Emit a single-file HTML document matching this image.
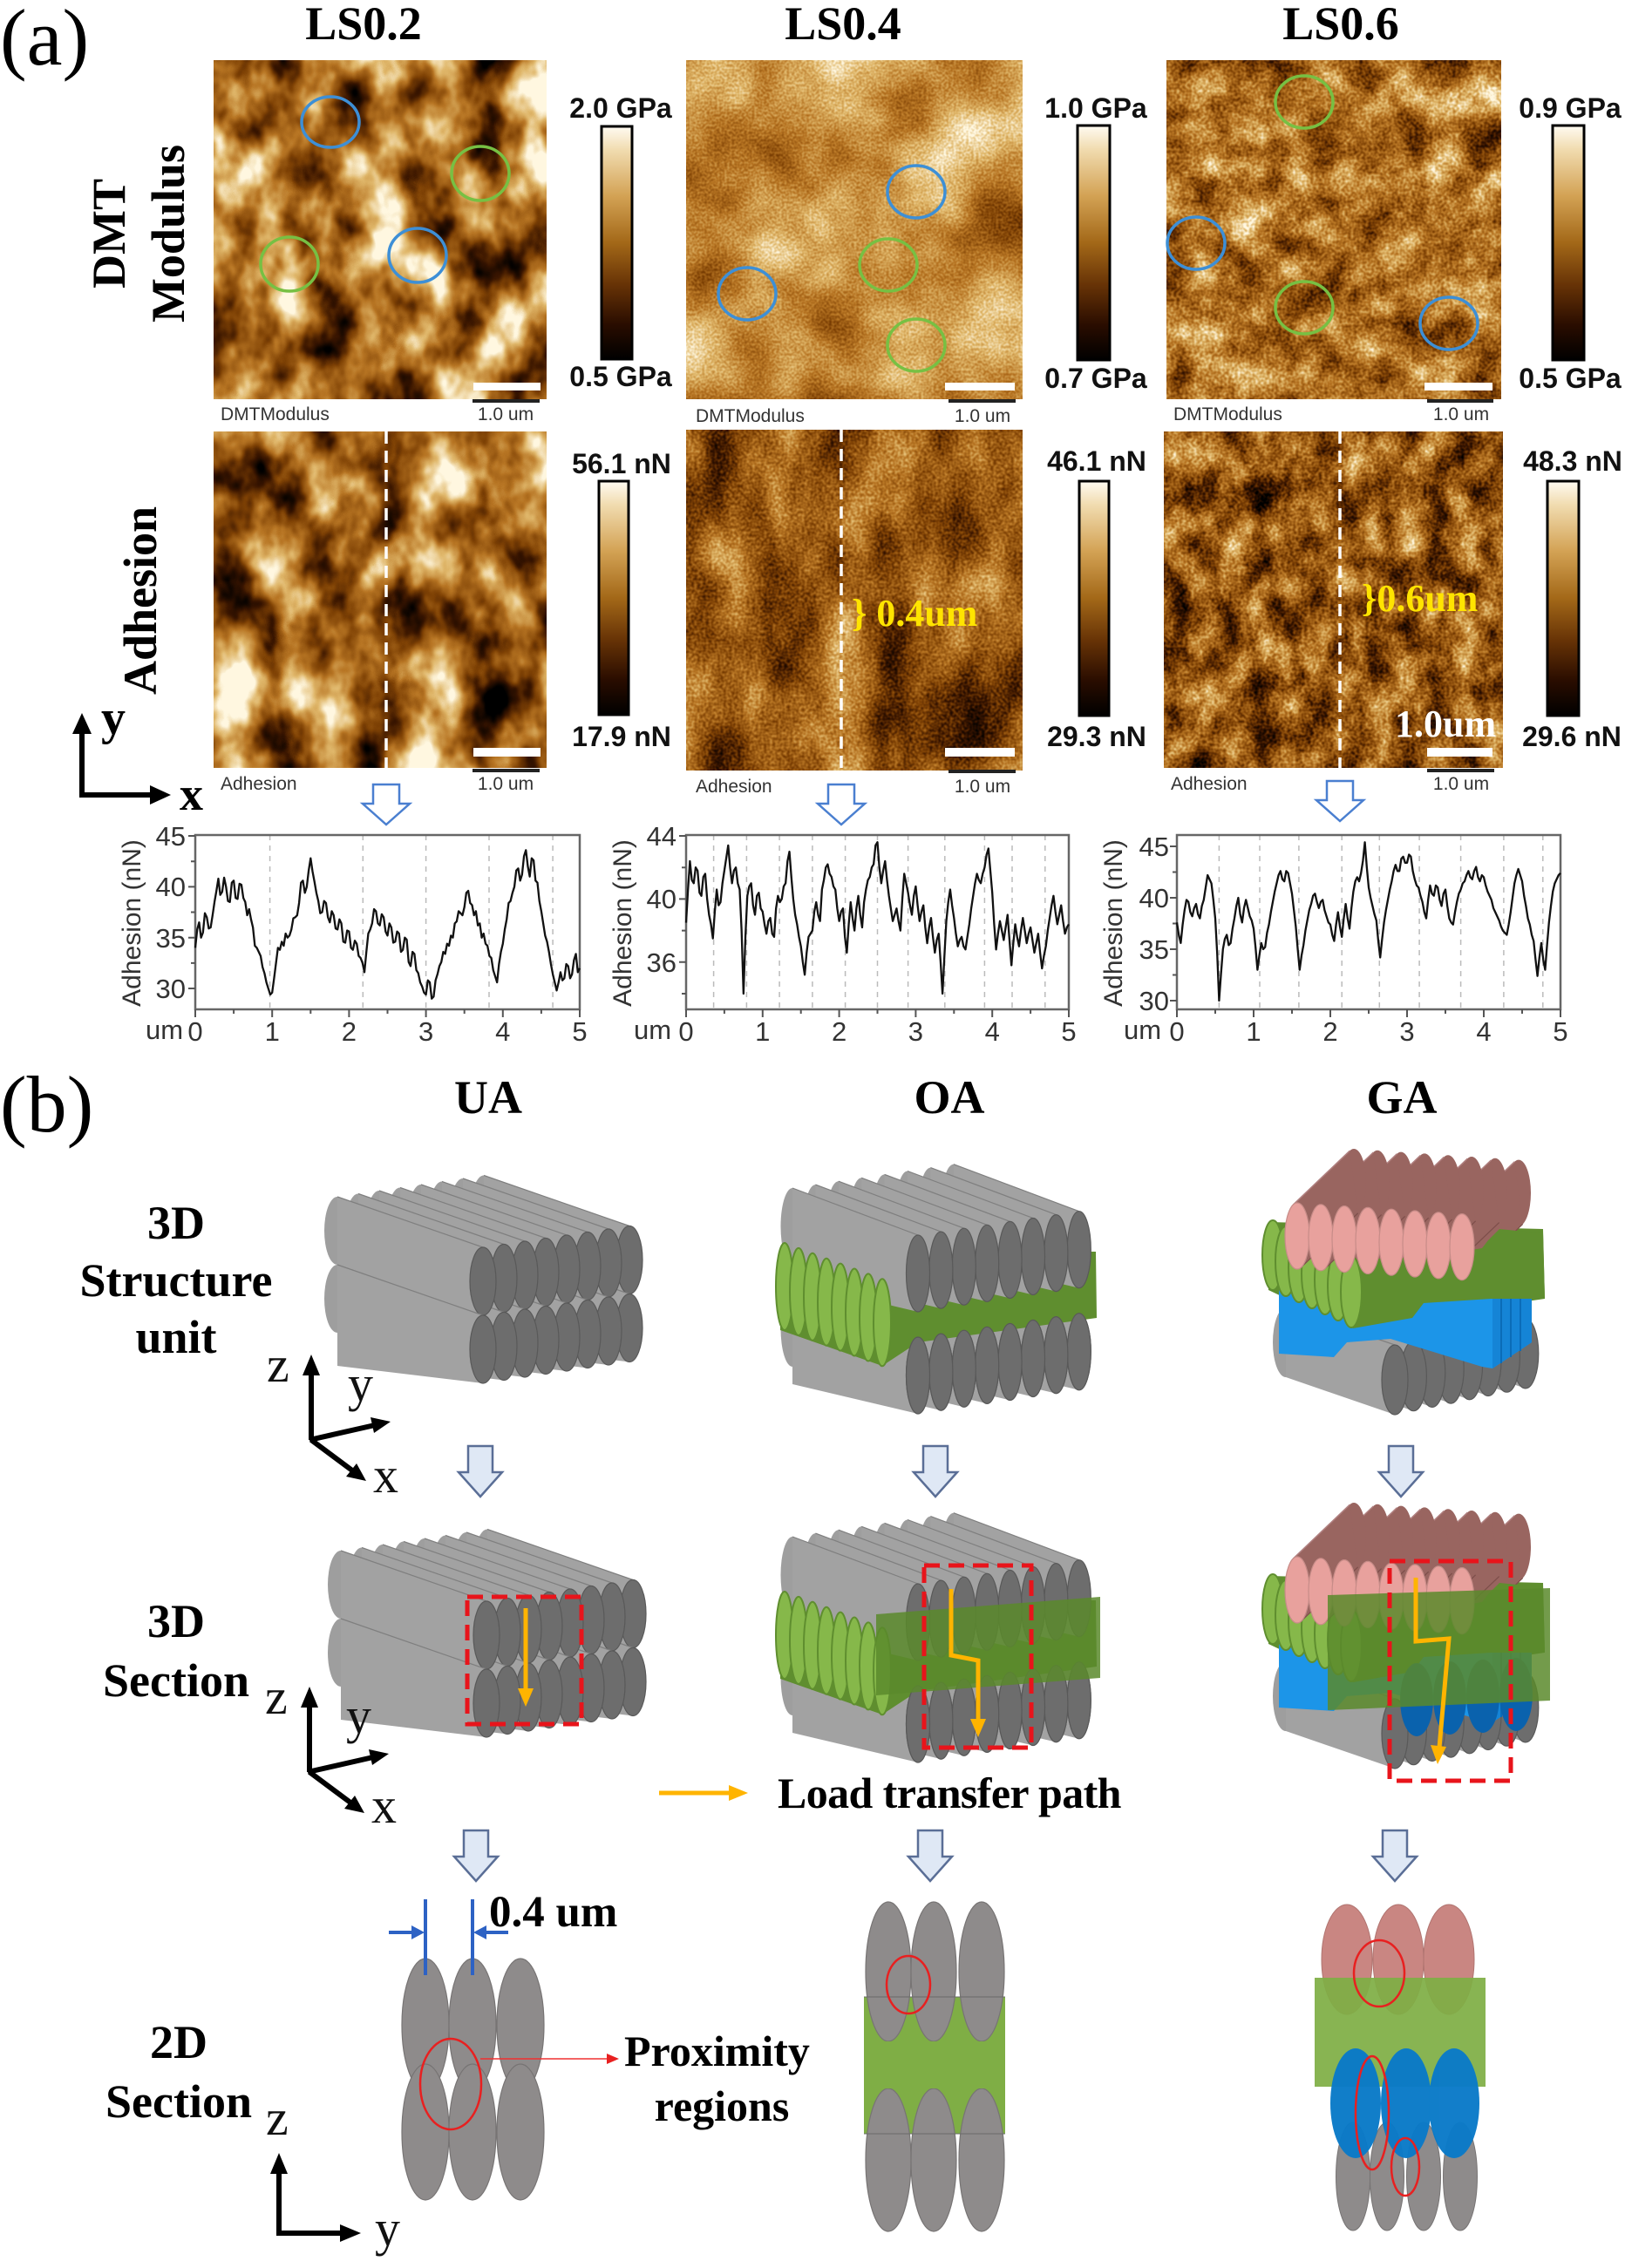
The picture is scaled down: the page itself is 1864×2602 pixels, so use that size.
<!DOCTYPE html>
<html><head><meta charset="utf-8"><style>
html,body{margin:0;padding:0;background:#fff;}
body{width:1864px;height:2602px;overflow:hidden;}
svg{display:block;}
.serif{font-family:"Liberation Serif","Times New Roman",serif;}
.sans{font-family:"Liberation Sans",Arial,sans-serif;}
</style></head><body>
<svg width="1864" height="2602" viewBox="0 0 1864 2602" xmlns="http://www.w3.org/2000/svg">
<defs>
<linearGradient id="cb" x1="0" y1="0" x2="0" y2="1">
<stop offset="0" stop-color="#fffbf2"/><stop offset="0.1" stop-color="#f1dcb0"/><stop offset="0.3" stop-color="#d3a254"/><stop offset="0.5" stop-color="#a36818"/><stop offset="0.68" stop-color="#673306"/><stop offset="0.85" stop-color="#2a0d00"/><stop offset="1" stop-color="#000"/>
</linearGradient>

<filter id="fA" x="0" y="0" width="1" height="1" color-interpolation-filters="sRGB">
<feTurbulence type="fractalNoise" baseFrequency="0.017 0.012" numOctaves="4" seed="7"/>
<feColorMatrix type="matrix" values="1.8 0 0 0 -0.33  1.8 0 0 0 -0.33  1.8 0 0 0 -0.33  0 0 0 0 1"/>
<feComponentTransfer>
<feFuncR type="table" tableValues="0 0.22 0.5 0.72 0.88 1"/>
<feFuncG type="table" tableValues="0 0.08 0.26 0.46 0.72 0.97"/>
<feFuncB type="table" tableValues="0 0 0.02 0.14 0.42 0.88"/>
</feComponentTransfer>
</filter>
<filter id="fA2" x="0" y="0" width="1" height="1" color-interpolation-filters="sRGB">
<feTurbulence type="fractalNoise" baseFrequency="0.017 0.012" numOctaves="4" seed="31"/>
<feColorMatrix type="matrix" values="1.8 0 0 0 -0.36  1.8 0 0 0 -0.36  1.8 0 0 0 -0.36  0 0 0 0 1"/>
<feComponentTransfer>
<feFuncR type="table" tableValues="0 0.22 0.5 0.72 0.88 1"/>
<feFuncG type="table" tableValues="0 0.08 0.26 0.46 0.72 0.97"/>
<feFuncB type="table" tableValues="0 0 0.02 0.14 0.42 0.88"/>
</feComponentTransfer>
</filter>
<filter id="fB" x="0" y="0" width="1" height="1" color-interpolation-filters="sRGB">
<feTurbulence type="fractalNoise" baseFrequency="0.009" numOctaves="3" seed="3" result="a0"/>
<feColorMatrix in="a0" type="matrix" values="1 0 0 0 0  1 0 0 0 0  1 0 0 0 0  0 0 0 0 1" result="a"/>
<feTurbulence type="fractalNoise" baseFrequency="0.35" numOctaves="1" seed="11" result="b0"/>
<feColorMatrix in="b0" type="matrix" values="1 0 0 0 0  1 0 0 0 0  1 0 0 0 0  0 0 0 0 1" result="b"/>
<feComposite in="a" in2="b" operator="arithmetic" k1="0" k2="0.75" k3="0.3" k4="-0.025"/>
<feColorMatrix type="matrix" values="1.2 0 0 0 0.08  1.2 0 0 0 0.08  1.2 0 0 0 0.08  0 0 0 0 1"/>
<feComponentTransfer>
<feFuncR type="table" tableValues="0 0.22 0.5 0.72 0.88 1"/>
<feFuncG type="table" tableValues="0 0.08 0.26 0.46 0.72 0.97"/>
<feFuncB type="table" tableValues="0 0 0.02 0.14 0.42 0.88"/>
</feComponentTransfer>
</filter>
<filter id="fC" x="0" y="0" width="1" height="1" color-interpolation-filters="sRGB">
<feTurbulence type="fractalNoise" baseFrequency="0.015 0.008" numOctaves="3" seed="5" result="a0"/>
<feColorMatrix in="a0" type="matrix" values="1 0 0 0 0  1 0 0 0 0  1 0 0 0 0  0 0 0 0 1" result="a"/>
<feTurbulence type="fractalNoise" baseFrequency="0.3" numOctaves="1" seed="13" result="b0"/>
<feColorMatrix in="b0" type="matrix" values="1 0 0 0 0  1 0 0 0 0  1 0 0 0 0  0 0 0 0 1" result="b"/>
<feComposite in="a" in2="b" operator="arithmetic" k1="0" k2="0.7" k3="0.35" k4="-0.025"/>
<feColorMatrix type="matrix" values="1.4 0 0 0 -0.22  1.4 0 0 0 -0.22  1.4 0 0 0 -0.22  0 0 0 0 1"/>
<feComponentTransfer>
<feFuncR type="table" tableValues="0 0.22 0.5 0.72 0.88 1"/>
<feFuncG type="table" tableValues="0 0.08 0.26 0.46 0.72 0.97"/>
<feFuncB type="table" tableValues="0 0 0.02 0.14 0.42 0.88"/>
</feComponentTransfer>
</filter>
<filter id="fD" x="0" y="0" width="1" height="1" color-interpolation-filters="sRGB">
<feTurbulence type="fractalNoise" baseFrequency="0.022" numOctaves="4" seed="21" result="a0"/>
<feColorMatrix in="a0" type="matrix" values="1 0 0 0 0  1 0 0 0 0  1 0 0 0 0  0 0 0 0 1" result="a"/>
<feTurbulence type="fractalNoise" baseFrequency="0.3" numOctaves="1" seed="17" result="b0"/>
<feColorMatrix in="b0" type="matrix" values="1 0 0 0 0  1 0 0 0 0  1 0 0 0 0  0 0 0 0 1" result="b"/>
<feComposite in="a" in2="b" operator="arithmetic" k1="0" k2="0.7" k3="0.35" k4="-0.025"/>
<feColorMatrix type="matrix" values="1.5 0 0 0 -0.18  1.5 0 0 0 -0.18  1.5 0 0 0 -0.18  0 0 0 0 1"/>
<feComponentTransfer>
<feFuncR type="table" tableValues="0 0.22 0.5 0.72 0.88 1"/>
<feFuncG type="table" tableValues="0 0.08 0.26 0.46 0.72 0.97"/>
<feFuncB type="table" tableValues="0 0 0.02 0.14 0.42 0.88"/>
</feComponentTransfer>
</filter>
<filter id="fE" x="0" y="0" width="1" height="1" color-interpolation-filters="sRGB">
<feTurbulence type="fractalNoise" baseFrequency="0.03 0.022" numOctaves="4" seed="9" result="a0"/>
<feColorMatrix in="a0" type="matrix" values="1 0 0 0 0  1 0 0 0 0  1 0 0 0 0  0 0 0 0 1" result="a"/>
<feTurbulence type="fractalNoise" baseFrequency="0.3" numOctaves="1" seed="19" result="b0"/>
<feColorMatrix in="b0" type="matrix" values="1 0 0 0 0  1 0 0 0 0  1 0 0 0 0  0 0 0 0 1" result="b"/>
<feComposite in="a" in2="b" operator="arithmetic" k1="0" k2="0.7" k3="0.35" k4="-0.025"/>
<feColorMatrix type="matrix" values="1.6 0 0 0 -0.32  1.6 0 0 0 -0.32  1.6 0 0 0 -0.32  0 0 0 0 1"/>
<feComponentTransfer>
<feFuncR type="table" tableValues="0 0.22 0.5 0.72 0.88 1"/>
<feFuncG type="table" tableValues="0 0.08 0.26 0.46 0.72 0.97"/>
<feFuncB type="table" tableValues="0 0 0.02 0.14 0.42 0.88"/>
</feComponentTransfer>
</filter>

<!-- cylinder symbols -->
<g id="cU">
<ellipse cx="-167" cy="-58" rx="15" ry="39" fill="#9e9e9e"/>
<polygon points="0,-39 -167,-97 -167,19 0,39" fill="#a2a2a2"/>
<polyline points="0,-39 -167,-97" fill="none" stroke="#7f7f7f" stroke-width="1.2"/>
<ellipse rx="15" ry="39" fill="#6d6d6d" stroke="#595959" stroke-width="1.2"/>
</g>
<g id="cO">
<ellipse cx="-144" cy="-54" rx="13.5" ry="44" fill="#9e9e9e"/>
<polygon points="0,-44 -144,-98 -144,10 0,44" fill="#a2a2a2"/>
<polyline points="0,-44 -144,-98" fill="none" stroke="#7f7f7f" stroke-width="1.2"/>
<ellipse rx="13.5" ry="44" fill="#6d6d6d" stroke="#595959" stroke-width="1.2"/>
</g>
<g id="cG">
<ellipse cx="-125" cy="-43" rx="15" ry="40" fill="#9e9e9e"/>
<polygon points="0,-40 -125,-83 -125,-3 0,40" fill="#a2a2a2"/>
<polyline points="0,-40 -125,-83" fill="none" stroke="#7f7f7f" stroke-width="1.2"/>
<ellipse rx="15" ry="40" fill="#6d6d6d" stroke="#595959" stroke-width="1.2"/>
</g>
<g id="pB">
<ellipse cx="65" cy="-62" rx="14" ry="38" fill="#996560"/>
<polygon points="4.65,35.8 -4.65,-35.8 60.35,-97.8 69.65,-26.2" fill="#996560"/>
<polyline points="-4.65,-35.8 60.35,-97.8" fill="none" stroke="#b08080" stroke-width="1.5"/>
<polyline points="4.65,35.8 69.65,-26.2" fill="none" stroke="#7d4e4a" stroke-width="1.2"/>
</g>
<g id="pF"><ellipse rx="14" ry="38" fill="#e8a19d" stroke="#c78c88" stroke-width="1.2"/></g>

<g id="UAb">
<use href="#cU" x="722" y="1445.5"/><use href="#cU" x="722" y="1523.5"/>
<use href="#cU" x="698" y="1449"/><use href="#cU" x="698" y="1527"/>
<use href="#cU" x="674" y="1452.5"/><use href="#cU" x="674" y="1530.5"/>
<use href="#cU" x="650" y="1456"/><use href="#cU" x="650" y="1534"/>
<use href="#cU" x="626" y="1459.5"/><use href="#cU" x="626" y="1537.5"/>
<use href="#cU" x="602" y="1463"/><use href="#cU" x="602" y="1541"/>
<use href="#cU" x="578" y="1466.5"/><use href="#cU" x="578" y="1544.5"/>
<use href="#cU" x="554" y="1470"/><use href="#cU" x="554" y="1548"/>
</g>

<g id="OAb">
<use href="#cO" x="1237.8" y="1550.7"/><use href="#cO" x="1211.4" y="1554.6"/><use href="#cO" x="1185" y="1558.5"/><use href="#cO" x="1158.6" y="1562.4"/><use href="#cO" x="1132.2" y="1566.3"/><use href="#cO" x="1105.8" y="1570.2"/><use href="#cO" x="1079.4" y="1574.1"/><use href="#cO" x="1053" y="1578"/>
<polygon points="895,1430 1257,1436 1258,1512 1053,1540 1012,1567 895,1526" fill="#5f8e2f"/>
<g fill="#6d6d6d" stroke="#595959" stroke-width="1.2">
<ellipse cx="1237.8" cy="1550.7" rx="13.5" ry="44"/><ellipse cx="1211.4" cy="1554.6" rx="13.5" ry="44"/><ellipse cx="1185" cy="1558.5" rx="13.5" ry="44"/><ellipse cx="1158.6" cy="1562.4" rx="13.5" ry="44"/><ellipse cx="1132.2" cy="1566.3" rx="13.5" ry="44"/><ellipse cx="1105.8" cy="1570.2" rx="13.5" ry="44"/><ellipse cx="1079.4" cy="1574.1" rx="13.5" ry="44"/><ellipse cx="1053" cy="1578" rx="13.5" ry="44"/>
</g>
<use href="#cO" x="1237.8" y="1433.7"/><use href="#cO" x="1211.4" y="1437.6"/><use href="#cO" x="1185" y="1441.5"/><use href="#cO" x="1158.6" y="1445.4"/><use href="#cO" x="1132.2" y="1449.3"/><use href="#cO" x="1105.8" y="1453.2"/><use href="#cO" x="1079.4" y="1457.1"/><use href="#cO" x="1053" y="1461"/>
<g fill="#86b84a" stroke="#5f8e2f" stroke-width="2">
<ellipse cx="900" cy="1476" rx="10" ry="50"/><ellipse cx="916" cy="1481.9" rx="10" ry="50"/><ellipse cx="932" cy="1487.8" rx="10" ry="50"/><ellipse cx="948" cy="1493.7" rx="10" ry="50"/><ellipse cx="964" cy="1499.6" rx="10" ry="50"/><ellipse cx="980" cy="1505.5" rx="10" ry="50"/><ellipse cx="996" cy="1511.4" rx="10" ry="50"/><ellipse cx="1012" cy="1517.3" rx="10" ry="50"/>
</g>
</g>

<g id="GAb">
<polygon points="1455,1402 1770,1410 1772,1490 1620,1512 1550,1525 1455,1480" fill="#5f8e2f"/>
<use href="#cG" x="1749.8" y="1552.9"/><use href="#cG" x="1728.4" y="1557.2"/><use href="#cG" x="1707" y="1561.5"/><use href="#cG" x="1685.6" y="1565.8"/><use href="#cG" x="1664.2" y="1570.1"/><use href="#cG" x="1642.8" y="1574.4"/><use href="#cG" x="1621.4" y="1578.7"/><use href="#cG" x="1600" y="1583"/>
<polygon points="1467,1472 1520,1470 1560,1478 1600,1492 1640,1490 1700,1476 1757,1478 1757,1540 1712,1570 1700,1568 1595,1536 1545,1540 1530,1557 1467,1553" fill="#1c95e8"/>
<polygon points="1712,1478 1757,1478 1757,1540 1712,1570" fill="#1584d6"/>
<g stroke="#0b6cb8" stroke-width="2"><line x1="1722" y1="1480" x2="1722" y2="1564"/><line x1="1733" y1="1480" x2="1733" y2="1557"/><line x1="1744" y1="1480" x2="1744" y2="1550"/></g>
<g fill="#86b84a" stroke="#5f8e2f" stroke-width="2">
<ellipse cx="1460" cy="1440" rx="12" ry="40"/><ellipse cx="1475" cy="1447" rx="12" ry="40"/><ellipse cx="1490" cy="1454" rx="12" ry="40"/><ellipse cx="1505" cy="1461" rx="12" ry="40"/><ellipse cx="1520" cy="1468" rx="12" ry="40"/><ellipse cx="1535" cy="1475" rx="12" ry="40"/>
</g>
<use href="#pB" x="1677" y="1430.6"/><use href="#pB" x="1650" y="1428.8"/><use href="#pB" x="1623" y="1427"/><use href="#pB" x="1596" y="1425.2"/><use href="#pB" x="1569" y="1423.4"/><use href="#pB" x="1542" y="1421.6"/><use href="#pB" x="1515" y="1419.8"/><use href="#pB" x="1488" y="1418"/>
<polygon points="1545,1445 1640,1442 1700,1432 1707,1423 1720,1410 1770,1415 1772,1490 1710,1490 1633,1495 1620,1512 1552,1524 1545,1500" fill="#5f8e2f"/>
<ellipse cx="1550" cy="1482" rx="12" ry="41" fill="#86b84a" stroke="#5f8e2f" stroke-width="2"/>
<use href="#pF" x="1488" y="1418"/><use href="#pF" x="1515" y="1419.8"/><use href="#pF" x="1542" y="1421.6"/><use href="#pF" x="1569" y="1423.4"/><use href="#pF" x="1596" y="1425.2"/><use href="#pF" x="1623" y="1427"/><use href="#pF" x="1650" y="1428.8"/><use href="#pF" x="1677" y="1430.6"/>
</g>
</defs>

<!-- ================= (a) ================= -->
<text class="serif" x="0" y="74" font-size="92">(a)</text>
<g class="serif" font-weight="bold" font-size="54" text-anchor="middle">
<text x="417" y="45">LS0.2</text>
<text x="967" y="45">LS0.4</text>
<text x="1538" y="45">LS0.6</text>
<text transform="translate(143,268) rotate(-90)">DMT</text>
<text transform="translate(211,268) rotate(-90)">Modulus</text>
<text transform="translate(179,689) rotate(-90)">Adhesion</text>
</g>

<!-- AFM images -->
<rect x="245" y="69" width="382" height="389" fill="#a86a20"/>
<rect x="245" y="69" width="382" height="389" filter="url(#fA)"/>
<rect x="787" y="69" width="386" height="389" fill="#c08a45"/>
<rect x="787" y="69" width="386" height="389" filter="url(#fB)"/>
<rect x="1338" y="69" width="384" height="389" fill="#a86a20"/>
<rect x="1338" y="69" width="384" height="389" filter="url(#fD)"/>
<rect x="245" y="495" width="382" height="386" fill="#a86a20"/>
<rect x="245" y="495" width="382" height="386" filter="url(#fA2)"/>
<rect x="787" y="493" width="386" height="391" fill="#8a5010"/>
<rect x="787" y="493" width="386" height="391" filter="url(#fC)"/>
<rect x="1335" y="495" width="389" height="386" fill="#8a5010"/>
<rect x="1335" y="495" width="389" height="386" filter="url(#fE)"/>

<!-- circles -->
<g fill="none" stroke-width="3.5">
<ellipse cx="379" cy="140" rx="33" ry="29" stroke="#3d8fd6"/>
<ellipse cx="551" cy="199" rx="33" ry="31" stroke="#77c043"/>
<ellipse cx="332" cy="303" rx="33" ry="31" stroke="#77c043"/>
<ellipse cx="479" cy="293" rx="33" ry="31" stroke="#3d8fd6"/>
<ellipse cx="1051" cy="220" rx="33" ry="30" stroke="#3d8fd6"/>
<ellipse cx="1019" cy="304" rx="33" ry="30" stroke="#77c043"/>
<ellipse cx="1051" cy="396" rx="33" ry="30" stroke="#77c043"/>
<ellipse cx="857" cy="337" rx="33" ry="30" stroke="#3d8fd6"/>
<ellipse cx="1496" cy="117" rx="33" ry="30" stroke="#77c043"/>
<ellipse cx="1372" cy="279" rx="33" ry="30" stroke="#3d8fd6"/>
<ellipse cx="1496" cy="353" rx="33" ry="30" stroke="#77c043"/>
<ellipse cx="1662" cy="371" rx="33" ry="30" stroke="#3d8fd6"/>
</g>

<!-- dashed lines -->
<g stroke="#fff" stroke-width="3.5" stroke-dasharray="14 8">
<line x1="443" y1="495" x2="443" y2="881"/>
<line x1="965" y1="493" x2="965" y2="884"/>
<line x1="1537" y1="495" x2="1537" y2="881"/>
</g>

<!-- white bars -->
<g fill="#fff">
<rect x="543" y="439" width="77" height="9"/><rect x="1084" y="439" width="80" height="9"/><rect x="1634" y="439" width="78" height="9"/>
<rect x="543" y="858" width="77" height="10"/><rect x="1084" y="858" width="80" height="10"/><rect x="1637" y="858" width="75" height="10"/>
</g>
<!-- black scale lines -->
<g stroke="#222" stroke-width="4">
<line x1="542" y1="460" x2="619" y2="460"/><line x1="1088" y1="460" x2="1165" y2="460"/><line x1="1637" y1="460" x2="1713" y2="460"/>
<line x1="542" y1="884" x2="619" y2="884"/><line x1="1088" y1="885" x2="1165" y2="885"/><line x1="1637" y1="884" x2="1714" y2="884"/>
</g>
<g class="sans" font-size="21" fill="#333">
<text x="253" y="482">DMTModulus</text><text x="580" y="482" text-anchor="middle">1.0 um</text>
<text x="798" y="484">DMTModulus</text><text x="1127" y="484" text-anchor="middle">1.0 um</text>
<text x="1346" y="482">DMTModulus</text><text x="1676" y="482" text-anchor="middle">1.0 um</text>
<text x="253" y="906">Adhesion</text><text x="580" y="906" text-anchor="middle">1.0 um</text>
<text x="798" y="909">Adhesion</text><text x="1127" y="909" text-anchor="middle">1.0 um</text>
<text x="1343" y="906">Adhesion</text><text x="1676" y="906" text-anchor="middle">1.0 um</text>
</g>

<!-- colorbars -->
<g fill="url(#cb)" stroke="#000" stroke-width="3">
<rect x="690" y="145" width="35" height="267"/>
<rect x="1236" y="144" width="37" height="269"/>
<rect x="1781" y="144" width="36" height="269"/>
<rect x="687" y="552" width="34" height="268"/>
<rect x="1238" y="552" width="34" height="269"/>
<rect x="1775" y="552" width="36" height="269"/>
</g>
<g class="sans" font-weight="bold" font-size="32" fill="#111" text-anchor="middle">
<text x="712" y="135">2.0 GPa</text><text x="712" y="443">0.5 GPa</text>
<text x="1257" y="135">1.0 GPa</text><text x="1257" y="445">0.7 GPa</text>
<text x="1801" y="135">0.9 GPa</text><text x="1801" y="445">0.5 GPa</text>
<text x="713" y="543">56.1 nN</text><text x="713" y="856">17.9 nN</text>
<text x="1258" y="540">46.1 nN</text><text x="1258" y="856">29.3 nN</text>
<text x="1804" y="540">48.3 nN</text><text x="1803" y="856">29.6 nN</text>
</g>

<!-- yellow annotations -->
<g class="serif" font-weight="bold" font-size="44">
<text x="977" y="718" fill="#ffe400">} 0.4um</text>
<text x="1562" y="701" fill="#ffe400">}0.6um</text>
<text x="1600" y="845" fill="#fff">1.0um</text>
</g>

<!-- xy axes (a) -->
<line x1="94" y1="915" x2="94" y2="838" stroke="#000" stroke-width="6"/>
<polygon points="94,818 83,842 105,842" fill="#000"/>
<line x1="91" y1="912" x2="174" y2="912" stroke="#000" stroke-width="6"/>
<polygon points="196,912 172,901 172,923" fill="#000"/>
<text class="serif" font-weight="bold" font-size="56" x="116" y="842">y</text>
<text class="serif" font-weight="bold" font-size="54" x="206" y="929">x</text>

<!-- hollow arrows (a) -->
<g fill="#fff" stroke="#4a7fd0" stroke-width="2.5">
<polygon points="428,900 458,900 458,922 470,922 443,946 416,922 428,922"/>
<polygon points="950,900 980,900 980,922 992,922 965,946 938,922 950,922"/>
<polygon points="1522,896 1552,896 1552,918 1564,918 1537,942 1510,918 1522,918"/>
</g>

<!-- plots -->
<g stroke="#bbb" stroke-width="1.5" stroke-dasharray="6 6">
<line x1="309.6" y1="958" x2="309.6" y2="1158"/><line x1="416.3" y1="958" x2="416.3" y2="1158"/><line x1="488.6" y1="958" x2="488.6" y2="1158"/><line x1="561" y1="958" x2="561" y2="1158"/><line x1="634.1" y1="958" x2="634.1" y2="1158"/>
<line x1="818.6" y1="958" x2="818.6" y2="1158"/><line x1="856.4" y1="958" x2="856.4" y2="1158"/><line x1="894.1" y1="958" x2="894.1" y2="1158"/><line x1="931.9" y1="958" x2="931.9" y2="1158"/><line x1="969.6" y1="958" x2="969.6" y2="1158"/><line x1="1006.5" y1="958" x2="1006.5" y2="1158"/><line x1="1041.6" y1="958" x2="1041.6" y2="1158"/><line x1="1083.8" y1="958" x2="1083.8" y2="1158"/><line x1="1129.4" y1="958" x2="1129.4" y2="1158"/><line x1="1161" y1="958" x2="1161" y2="1158"/><line x1="1198.8" y1="958" x2="1198.8" y2="1158"/>
<line x1="1398.4" y1="958" x2="1398.4" y2="1158"/><line x1="1445" y1="958" x2="1445" y2="1158"/><line x1="1489.9" y1="958" x2="1489.9" y2="1158"/><line x1="1539.2" y1="958" x2="1539.2" y2="1158"/><line x1="1582.3" y1="958" x2="1582.3" y2="1158"/><line x1="1628.1" y1="958" x2="1628.1" y2="1158"/><line x1="1675.6" y1="958" x2="1675.6" y2="1158"/><line x1="1724.9" y1="958" x2="1724.9" y2="1158"/><line x1="1769.8" y1="958" x2="1769.8" y2="1158"/>
</g>
<g fill="none" stroke="#666" stroke-width="2.5">
<rect x="224" y="958" width="441" height="200"/>
<rect x="787" y="958" width="439" height="200"/>
<rect x="1350" y="958" width="440" height="200"/>
</g>
<g stroke="#555" stroke-width="2">
<path d="M224,1158v9M312.2,1158v9M400.4,1158v9M488.6,1158v9M576.8,1158v9M665,1158v9M268.1,1158v5M356.3,1158v5M444.5,1158v5M532.7,1158v5M620.9,1158v5"/>
<path d="M224,959h-8M224,1017.4h-8M224,1075.7h-8M224,1134h-8M224,988.2h-5M224,1046.5h-5M224,1104.9h-5"/>
<path d="M787,1158v9M874.8,1158v9M962.6,1158v9M1050.4,1158v9M1138.2,1158v9M1226,1158v9M830.9,1158v5M918.7,1158v5M1006.5,1158v5M1094.3,1158v5M1182.1,1158v5"/>
<path d="M787,959h-8M787,1031.4h-8M787,1103.8h-8M787,995.2h-5M787,1067.6h-5M787,1140h-5"/>
<path d="M1350,1158v9M1438,1158v9M1526,1158v9M1614,1158v9M1702,1158v9M1790,1158v9M1394,1158v5M1482,1158v5M1570,1158v5M1658,1158v5M1746,1158v5"/>
<path d="M1350,971h-8M1350,1030h-8M1350,1089h-8M1350,1148h-8M1350,1000.5h-5M1350,1059.5h-5M1350,1118.5h-5"/>
</g>

<polyline fill="none" stroke="#111" stroke-width="2.3" vector-effect="non-scaling-stroke" stroke-linejoin="round" transform="translate(224,959) scale(88.2,-11.67) translate(0,-45)" points="0,34 0.025,35.8 0.05,36.5 0.075,35 0.1,35.5 0.125,37.4 0.15,37 0.175,35.9 0.2,36 0.225,37.2 0.25,38.5 0.275,39.6 0.3,40.8 0.325,39.2 0.35,39.5 0.375,40.9 0.4,40 0.425,38.6 0.45,38.5 0.475,40.4 0.5,40.6 0.525,38.9 0.55,38.8 0.575,40.3 0.6,40.2 0.625,38.9 0.65,38.5 0.675,37.2 0.7,37.8 0.725,36.8 0.75,36 0.775,34.2 0.8,34 0.825,33.6 0.85,33.2 0.875,32.1 0.9,31.5 0.925,30.6 0.95,30 0.975,29.4 1.0,29.6 1.025,31 1.05,32.5 1.075,34 1.1,33.8 1.125,34.6 1.15,34.2 1.175,35.4 1.2,35 1.225,35.2 1.25,35.8 1.275,36.9 1.3,37 1.325,37.2 1.35,38.4 1.375,40.4 1.4,40.6 1.425,39.4 1.45,40 1.475,41.6 1.5,42.8 1.525,41.5 1.55,40.5 1.575,39.4 1.6,38.6 1.625,37.4 1.65,37.5 1.675,38.6 1.7,38.4 1.725,37 1.75,36.5 1.775,37.6 1.8,37.2 1.825,35.9 1.85,35.8 1.875,36.8 1.9,36.4 1.925,34.6 1.95,34.5 1.975,35.7 2.0,35.6 2.025,34 2.05,33.8 2.075,34.7 2.1,34.4 2.125,33.2 2.15,33 2.175,32.5 2.2,31.6 2.225,33.6 2.25,35.4 2.275,35.8 2.3,36.4 2.325,37.8 2.35,37.6 2.375,36.4 2.4,36.2 2.425,37.3 2.45,37 2.475,35.6 2.5,35.2 2.525,36.4 2.55,36 2.575,34.5 2.6,34.6 2.625,35.6 2.65,35.4 2.675,33.6 2.7,33.8 2.725,35 2.75,34.8 2.775,32.6 2.8,32.2 2.825,33.6 2.85,33.4 2.875,31.8 2.9,31.5 2.925,30.6 2.95,30.2 2.975,29.6 3.0,29.4 3.025,30.8 3.05,30.6 3.075,29 3.1,29.2 3.125,30.8 3.15,31.4 3.175,32.2 3.2,32.6 3.225,33.6 3.25,33.4 3.275,34.4 3.3,34.2 3.325,35.2 3.35,35 3.375,36.4 3.4,36.6 3.425,37.6 3.45,37.4 3.475,37.2 3.5,38 3.525,39.4 3.55,39.6 3.575,38.4 3.6,38.2 3.625,37.2 3.65,37.6 3.675,36.2 3.7,36.4 3.725,35 3.75,35.4 3.775,34.4 3.8,34.2 3.825,33.2 3.85,33 3.875,31.8 3.9,31.2 3.925,30.6 3.95,32.4 3.975,33.6 4.0,34.4 4.025,35.8 4.05,36.8 4.075,38.4 4.1,38.6 4.125,39.4 4.15,40 4.175,41.6 4.2,41.8 4.225,40.6 4.25,41.2 4.275,43 4.3,43.6 4.325,42 4.35,41 4.375,42.8 4.4,42.6 4.425,40.6 4.45,40.4 4.475,38.6 4.5,37.6 4.525,36.4 4.55,35.2 4.575,34.6 4.6,33.6 4.625,32.4 4.65,31.4 4.675,30.6 4.7,29.8 4.725,30.6 4.75,31.6 4.775,30.8 4.8,31 4.825,32.4 4.85,32.2 4.875,31 4.9,31.4 4.925,32.8 4.95,33.4 4.975,31.6 5.0,32"/>

<polyline fill="none" stroke="#111" stroke-width="2.3" vector-effect="non-scaling-stroke" stroke-linejoin="round" transform="translate(787,959) scale(87.8,-18.1) translate(0,-44)" points="0,38.5 0.025,40.6 0.05,42.4 0.075,41.2 0.1,41 0.125,42 0.15,41.8 0.175,40.4 0.2,40.2 0.225,41.4 0.25,41.6 0.275,40 0.3,39 0.325,38.4 0.35,37.5 0.375,39.2 0.4,40.6 0.425,39.6 0.45,39.8 0.475,41 0.5,41.8 0.525,42.6 0.55,43.4 0.575,42 0.6,41 0.625,41.8 0.65,42 0.675,41 0.7,40.6 0.725,38 0.75,34 0.775,37.6 0.8,40.2 0.825,40.8 0.85,41 0.875,39.6 0.9,39 0.925,40.2 0.95,40.4 0.975,39.4 1.0,39.2 1.025,38.4 1.05,37.8 1.075,38.6 1.1,38.8 1.125,37.8 1.15,37.6 1.175,39.4 1.2,40.2 1.225,39.8 1.25,40 1.275,40.8 1.3,41 1.325,42.4 1.35,43 1.375,41.4 1.4,40 1.425,39 1.45,38.4 1.475,37.6 1.5,37 1.525,36 1.55,35.2 1.575,36.6 1.6,37.6 1.625,37.8 1.65,38 1.675,39.2 1.7,39.8 1.725,39 1.75,38.6 1.775,40.6 1.8,41.2 1.825,42 1.85,42.2 1.875,41.6 1.9,41.4 1.925,40.8 1.95,40.6 1.975,39.4 2.0,38.6 2.025,39.2 2.05,39.4 2.075,37.6 2.1,36.6 2.125,38.4 2.15,39.8 2.175,38.8 2.2,38 2.225,39.4 2.25,40.2 2.275,39 2.3,38.2 2.325,39.8 2.35,40.6 2.375,41.2 2.4,41.4 2.425,42 2.45,42.2 2.475,43.4 2.5,43.6 2.525,42 2.55,41 2.575,41.8 2.6,42.4 2.625,41.2 2.65,40.2 2.675,39.4 2.7,38.6 2.725,39 2.75,39.4 2.775,38.6 2.8,38 2.825,40 2.85,41.6 2.875,41 2.9,40.4 2.925,39.6 2.95,39 2.975,40.2 3.0,40.8 3.025,39.6 3.05,38.6 3.075,39.2 3.1,39.6 3.125,38.2 3.15,37.2 3.175,38.2 3.2,38.8 3.225,37.6 3.25,36.6 3.275,37.4 3.3,37.8 3.325,36 3.35,34 3.375,36.4 3.4,38.6 3.425,39.8 3.45,40.6 3.475,39.6 3.5,38.8 3.525,37.8 3.55,37 3.575,37.4 3.6,37.6 3.625,37 3.65,36.8 3.675,37.6 3.7,38.4 3.725,39.4 3.75,40.2 3.775,41 3.8,41.6 3.825,41.2 3.85,41 3.875,41.6 3.9,42 3.925,42.8 3.95,43.2 3.975,41.8 4.0,40.4 4.025,38.4 4.05,36.8 4.075,37.8 4.1,38.6 4.125,38 4.15,37.4 4.175,38.2 4.2,39 4.225,37.4 4.25,35.8 4.275,37.2 4.3,38.4 4.325,37.6 4.35,37 4.375,38 4.4,38.8 4.425,38 4.45,37.2 4.475,37.8 4.5,38.2 4.525,37.4 4.55,36.6 4.575,37.2 4.6,37.8 4.625,36.6 4.65,35.6 4.675,36.4 4.7,37 4.725,38 4.75,38.8 4.775,39.6 4.8,40.2 4.825,39.2 4.85,38.4 4.875,39 4.9,39.6 4.925,38.6 4.95,37.8 4.975,38.2 5.0,38.4"/>

<polyline fill="none" stroke="#111" stroke-width="2.3" vector-effect="non-scaling-stroke" stroke-linejoin="round" transform="translate(1350,971) scale(88,-11.8) translate(0,-45)" points="0,37.6 0.025,36.4 0.05,35.6 0.075,37.4 0.1,38.8 0.125,39.8 0.15,39.6 0.175,38.6 0.2,38.2 0.225,39 0.25,39.4 0.275,38.4 0.3,38 0.325,39.2 0.35,39.8 0.375,41 0.4,42.2 0.425,41.8 0.45,41.4 0.475,39.8 0.5,38 0.525,34.6 0.55,30 0.575,32.6 0.6,35 0.625,36 0.65,36.4 0.675,35.4 0.7,35.6 0.725,37 0.75,38 0.775,39.2 0.8,40 0.825,38.4 0.85,37.6 0.875,39 0.9,39.8 0.925,39 0.95,38.2 0.975,37.8 1.0,37 1.025,35.2 1.05,33 1.075,34.4 1.1,35.6 1.125,35 1.15,35.2 1.175,36.6 1.2,37.4 1.225,38.6 1.25,39.6 1.275,40.6 1.3,41.4 1.325,42.2 1.35,42.6 1.375,41.8 1.4,41.6 1.425,42.6 1.45,42.4 1.475,41.4 1.5,40.4 1.525,38.8 1.55,37.2 1.575,35 1.6,33 1.625,34.4 1.65,35.4 1.675,36.8 1.7,37.8 1.725,38.8 1.75,39.4 1.775,40.2 1.8,40.4 1.825,39.6 1.85,39 1.875,39.6 1.9,39.8 1.925,38.8 1.95,38.2 1.975,37.6 2.0,37.4 2.025,36.4 2.05,35.8 2.075,37.4 2.1,38.6 2.125,37.2 2.15,36.2 2.175,38 2.2,39.4 2.225,38 2.25,37 2.275,39 2.3,40.6 2.325,41.6 2.35,42 2.375,41.6 2.4,42.4 2.425,43.6 2.45,45.4 2.475,43 2.5,41 2.525,40 2.55,39.2 2.575,38.4 2.6,37.8 2.625,35.8 2.65,34.2 2.675,36 2.7,37.6 2.725,38.8 2.75,39.8 2.775,40.8 2.8,41.6 2.825,42.6 2.85,43.2 2.875,42.6 2.9,42.6 2.925,43.8 2.95,44 2.975,43.4 3.0,43.4 3.025,44.2 3.05,44 3.075,42.6 3.1,41.8 3.125,41.2 3.15,41 3.175,40.2 3.2,39.6 3.225,38.6 3.25,38 3.275,39.8 3.3,41.2 3.325,40.4 3.35,40.2 3.375,41.2 3.4,41 3.425,39.8 3.45,39.2 3.475,40.4 3.5,40.8 3.525,39.2 3.55,38 3.575,37.6 3.6,37.4 3.625,38.6 3.65,39.6 3.675,40.4 3.7,40.8 3.725,41.4 3.75,41.6 3.775,42.2 3.8,42.6 3.825,42 3.85,41.8 3.875,42.6 3.9,43 3.925,42 3.95,41.6 3.975,42.2 4.0,42 4.025,41.2 4.05,40.6 4.075,40.2 4.1,39.8 4.125,39 4.15,38.6 4.175,38.2 4.2,37.8 4.225,37.2 4.25,36.8 4.275,36.6 4.3,36.4 4.325,37.4 4.35,38.6 4.375,40 4.4,41.4 4.425,42.2 4.45,42.8 4.475,42.2 4.5,41.6 4.525,40.2 4.55,39.2 4.575,38 4.6,37.4 4.625,36.4 4.65,35.8 4.675,34 4.7,32.4 4.725,34.2 4.75,35.6 4.775,34 4.8,33 4.825,35.4 4.85,37.6 4.875,39.2 4.9,40.6 4.925,41.4 4.95,41.8 4.975,42.2 5.0,42.4"/>

<g class="sans" font-size="31" fill="#333">
<g text-anchor="end">
<text x="213" y="970">45</text><text x="213" y="1028">40</text><text x="213" y="1087">35</text><text x="213" y="1145">30</text>
<text x="776" y="970">44</text><text x="776" y="1042">40</text><text x="776" y="1115">36</text>
<text x="1341" y="982">45</text><text x="1341" y="1041">40</text><text x="1341" y="1100">35</text><text x="1341" y="1159">30</text>
</g>
<g text-anchor="middle">
<text x="224" y="1194">0</text><text x="312.2" y="1194">1</text><text x="400.4" y="1194">2</text><text x="488.6" y="1194">3</text><text x="576.8" y="1194">4</text><text x="665" y="1194">5</text>
<text x="787" y="1194">0</text><text x="874.8" y="1194">1</text><text x="962.6" y="1194">2</text><text x="1050.4" y="1194">3</text><text x="1138.2" y="1194">4</text><text x="1226" y="1194">5</text>
<text x="1350" y="1194">0</text><text x="1438" y="1194">1</text><text x="1526" y="1194">2</text><text x="1614" y="1194">3</text><text x="1702" y="1194">4</text><text x="1790" y="1194">5</text>
<text transform="translate(161,1059) rotate(-90)" font-size="30">Adhesion (nN)</text>
<text transform="translate(724,1059) rotate(-90)" font-size="30">Adhesion (nN)</text>
<text transform="translate(1287,1059) rotate(-90)" font-size="30">Adhesion (nN)</text>
</g>
<text x="167" y="1192">um</text><text x="727" y="1192">um</text><text x="1289" y="1192">um</text>
</g>

<!-- ================= (b) ================= -->
<text class="serif" x="0" y="1298" font-size="92">(b)</text>
<g class="serif" font-weight="bold" font-size="54" text-anchor="middle">
<text x="560" y="1277">UA</text><text x="1089" y="1277">OA</text><text x="1608" y="1277">GA</text>
<text x="202" y="1421">3D</text><text x="202" y="1487">Structure</text><text x="202" y="1552">unit</text>
<text x="202" y="1878">3D</text><text x="202" y="1946">Section</text>
<text x="205" y="2361">2D</text><text x="205" y="2429">Section</text>
</g>

<!-- 3D blocks -->
<use href="#UAb"/>
<use href="#OAb"/>
<use href="#GAb"/>
<use href="#UAb" x="4" y="406"/>
<use href="#OAb" y="400"/>
<polygon points="1005,1852 1262,1832 1262,1925 1005,1945" fill="#5b8a2c" opacity="0.85"/>
<use href="#GAb" y="406"/>
<g fill="#0a62ad"><ellipse cx="1625" cy="1950" rx="19" ry="42"/><ellipse cx="1663" cy="1948" rx="19" ry="42"/><ellipse cx="1701" cy="1946" rx="19" ry="42"/><ellipse cx="1739" cy="1944" rx="19" ry="42"/></g>
<polygon points="1523,1830 1778,1822 1778,1951 1523,1962" fill="#5b8a2c" opacity="0.85"/>

<!-- red dashed boxes -->
<g fill="none" stroke="#e8141b" stroke-width="5" stroke-dasharray="18 10">
<rect x="536" y="1832" width="131" height="146"/>
<rect x="1060" y="1796" width="123" height="209"/>
<rect x="1594" y="1791" width="139" height="252"/>
</g>
<!-- load arrows -->
<g stroke="#ffb400" stroke-width="5" fill="none">
<line x1="603" y1="1845" x2="603" y2="1940"/>
<polyline points="1091,1823 1091,1899 1122,1905 1122,1975"/>
<polyline points="1624,1810 1624,1883 1662,1880 1651,2005"/>
<line x1="756" y1="2057" x2="838" y2="2057"/>
</g>
<g fill="#ffb400">
<polygon points="603,1958 594,1937 612,1937"/>
<polygon points="1122,1993 1113,1972 1131,1972"/>
<polygon points="1649,2024 1641,2002 1659,2004"/>
<polygon points="858,2057 836,2048 836,2066"/>
</g>
<text class="serif" font-weight="bold" font-size="50" x="892" y="2074" letter-spacing="-0.6">Load transfer path</text>

<!-- triads -->
<g stroke="#000" stroke-width="6" fill="none">
<line x1="357" y1="1652" x2="357" y2="1574"/>
<line x1="355" y1="1652" x2="430" y2="1635"/>
<line x1="357" y1="1652" x2="404" y2="1687"/>
</g>
<g fill="#000">
<polygon points="357,1554 347,1578 367,1578"/>
<polygon points="448,1631 429,1644 425,1626"/>
<polygon points="420,1699 397,1694 409,1679"/>
</g>
<g transform="translate(-2,381)">
<g stroke="#000" stroke-width="6" fill="none">
<line x1="357" y1="1652" x2="357" y2="1574"/>
<line x1="355" y1="1652" x2="430" y2="1635"/>
<line x1="357" y1="1652" x2="404" y2="1687"/>
</g>
<g fill="#000">
<polygon points="357,1554 347,1578 367,1578"/>
<polygon points="448,1631 429,1644 425,1626"/>
<polygon points="420,1699 397,1694 409,1679"/>
</g>
</g>
<g class="serif" font-size="58" fill="#111">
<text x="306" y="1585">z</text><text x="399" y="1607">y</text><text x="428" y="1712">x</text>
<text x="304" y="1966">z</text><text x="397" y="1988">y</text><text x="426" y="2091">x</text>
<text x="305" y="2449">z</text><text x="430" y="2576">y</text>
</g>
<line x1="320" y1="2565" x2="320" y2="2490" stroke="#000" stroke-width="6"/>
<polygon points="320,2470 310,2494 330,2494" fill="#000"/>
<line x1="317" y1="2562" x2="392" y2="2562" stroke="#000" stroke-width="6"/>
<polygon points="414,2562 390,2552 390,2572" fill="#000"/>

<!-- light blue down arrows -->
<g fill="#dfe8f5" stroke="#5a6e96" stroke-width="2.5">
<polygon points="537,1659 565,1659 565,1689 576,1689 551,1717 526,1689 537,1689"/>
<polygon points="1059,1659 1087,1659 1087,1689 1098,1689 1073,1717 1048,1689 1059,1689"/>
<polygon points="1593,1659 1621,1659 1621,1689 1632,1689 1607,1717 1582,1689 1593,1689"/>
<polygon points="532,2100 560,2100 560,2130 571,2130 546,2158 521,2130 532,2130"/>
<polygon points="1053,2100 1081,2100 1081,2130 1092,2130 1067,2158 1042,2130 1053,2130"/>
<polygon points="1586,2100 1614,2100 1614,2130 1625,2130 1600,2158 1575,2130 1586,2130"/>
</g>

<!-- 2D sections -->
<g fill="#8e8b8b" stroke="#777474" stroke-width="1.2">
<ellipse cx="488" cy="2323" rx="27" ry="76"/><ellipse cx="542" cy="2323" rx="27" ry="76"/><ellipse cx="597" cy="2323" rx="27" ry="76"/>
<ellipse cx="488" cy="2446" rx="27" ry="78"/><ellipse cx="542" cy="2446" rx="27" ry="78"/><ellipse cx="597" cy="2446" rx="27" ry="78"/>
</g>
<g stroke="#2d62c4" stroke-width="4" fill="none">
<line x1="488" y1="2179" x2="488" y2="2266"/><line x1="542" y1="2179" x2="542" y2="2266"/>
<line x1="446" y1="2217" x2="476" y2="2217"/><line x1="583" y1="2217" x2="555" y2="2217"/>
</g>
<g fill="#2d62c4"><polygon points="487,2217 472,2209 472,2225"/><polygon points="543,2217 558,2209 558,2225"/></g>
<text class="serif" font-weight="bold" font-size="51" x="561" y="2210">0.4 um</text>
<ellipse cx="517" cy="2391" rx="35" ry="52" fill="none" stroke="#e82020" stroke-width="2.5"/>
<line x1="551" y1="2362" x2="698" y2="2362" stroke="#f03030" stroke-width="1.5"/>
<polygon points="710,2362 696,2356 696,2368" fill="#e82020"/>
<g class="serif" font-weight="bold" font-size="50">
<text x="716" y="2370">Proximity</text>
<text x="828" y="2433" text-anchor="middle">regions</text>
</g>

<rect x="991" y="2291" width="162" height="157" fill="#7fae45"/>
<g fill="#8e8b8b" stroke="#777474" stroke-width="1.2">
<ellipse cx="1019" cy="2262" rx="26" ry="80"/><ellipse cx="1071" cy="2262" rx="26" ry="80"/><ellipse cx="1126" cy="2262" rx="26" ry="80"/>
<ellipse cx="1019" cy="2478" rx="26" ry="82"/><ellipse cx="1071" cy="2478" rx="26" ry="82"/><ellipse cx="1126" cy="2478" rx="26" ry="82"/>
</g>
<rect x="991" y="2342" width="162" height="54" fill="#7fae45"/>
<g stroke="#6a6a6a" stroke-width="1"><line x1="991" y1="2291" x2="1153" y2="2291"/><line x1="991" y1="2448" x2="1153" y2="2448"/></g>
<ellipse cx="1042" cy="2277" rx="25" ry="33" fill="none" stroke="#e82020" stroke-width="2.5"/>

<g fill="#c98682" stroke="#b07470" stroke-width="1">
<ellipse cx="1545" cy="2248" rx="29" ry="63"/><ellipse cx="1604" cy="2248" rx="29" ry="63"/><ellipse cx="1662" cy="2248" rx="29" ry="63"/>
</g>
<rect x="1508" y="2269" width="196" height="125" fill="#7fae45" opacity="0.93"/>
<g fill="#8e8b8b" stroke="#777474" stroke-width="1">
<ellipse cx="1552" cy="2497" rx="19.5" ry="62"/><ellipse cx="1591" cy="2497" rx="19.5" ry="62"/><ellipse cx="1633" cy="2497" rx="19.5" ry="62"/><ellipse cx="1675" cy="2497" rx="19.5" ry="62"/>
</g>
<g fill="#0a7ac8" opacity="0.97">
<ellipse cx="1555" cy="2413" rx="29" ry="63"/><ellipse cx="1613" cy="2413" rx="29" ry="63"/><ellipse cx="1668" cy="2413" rx="29" ry="63"/>
</g>
<g fill="none" stroke="#e82020" stroke-width="2.5">
<ellipse cx="1582" cy="2264" rx="29" ry="38"/>
<ellipse cx="1574" cy="2424" rx="19" ry="65"/>
<ellipse cx="1612" cy="2486" rx="16" ry="33"/>
</g>
</svg>
</body></html>
